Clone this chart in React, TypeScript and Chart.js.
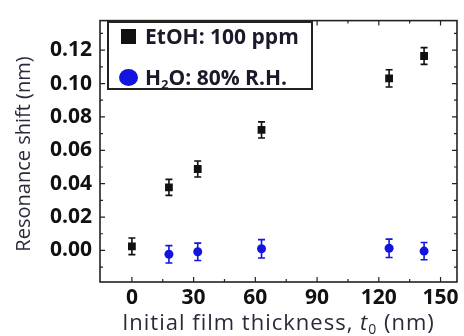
import React, { useEffect, useRef } from "react";
import { Chart, registerables } from "chart.js";

Chart.register(...registerables);

const etohThickness = [0, 18, 32, 63, 125, 142];
const etohShift = [0.0025, 0.0378, 0.0488, 0.0722, 0.1031, 0.1165];
const etohErr = [0.005, 0.0048, 0.0048, 0.0048, 0.0052, 0.005];

const waterThickness = [18, 32, 63, 125, 142];
const waterShift = [-0.0023, -0.0008, 0.001, 0.0013, -0.0004];
const waterErr = [0.0052, 0.0052, 0.0055, 0.0055, 0.0052];

const xTicks = [0, 30, 60, 90, 120, 150];
const yTicks = [0, 0.02, 0.04, 0.06, 0.08, 0.1, 0.12];
const xMinor = [15, 45, 75, 105, 135];
const yMinor = [-0.01, 0.01, 0.03, 0.05, 0.07, 0.09, 0.11, 0.13];

const etohLabel = "EtOH: 100 ppm";
const waterLabelParts = ["H", "2", "O: 80% R.H."];
const yTitle = "Resonance shift (nm)";
const xTitleParts = ["Initial film thickness, ", "t", "0", " (nm)"];

const BLUE = "#1414e0";
const INK = "#111111";

const errorBarPlugin = {
  id: "errBars",
  afterDatasetsDraw(chart: any) {
    const ctx = chart.ctx;
    const x = chart.scales.x;
    const y = chart.scales.y;
    const sets = [
      { xs: etohThickness, ys: etohShift, es: etohErr, c: INK },
      { xs: waterThickness, ys: waterShift, es: waterErr, c: BLUE },
    ];
    ctx.save();
    ctx.lineWidth = 1.6;
    for (const s of sets) {
      ctx.strokeStyle = s.c;
      s.xs.forEach((xv, i) => {
        const px = x.getPixelForValue(xv);
        const top = y.getPixelForValue(s.ys[i] + s.es[i]);
        const bot = y.getPixelForValue(s.ys[i] - s.es[i]);
        ctx.beginPath();
        ctx.moveTo(px, top);
        ctx.lineTo(px, bot);
        ctx.moveTo(px - 3.5, top);
        ctx.lineTo(px + 3.5, top);
        ctx.moveTo(px - 3.5, bot);
        ctx.lineTo(px + 3.5, bot);
        ctx.stroke();
      });
    }
    ctx.restore();
  },
};

const framePlugin = {
  id: "frame",
  afterDraw(chart: any) {
    const ctx = chart.ctx;
    const a = chart.chartArea;
    const x = chart.scales.x;
    const y = chart.scales.y;
    ctx.save();
    ctx.strokeStyle = "#222";
    ctx.lineWidth = 1.6;
    ctx.strokeRect(a.left, a.top, a.right - a.left, a.bottom - a.top);
    ctx.lineWidth = 1.2;
    ctx.beginPath();
    const major = 5;
    const minor = 3;
    xTicks.forEach((v) => {
      const p = x.getPixelForValue(v);
      ctx.moveTo(p, a.bottom);
      ctx.lineTo(p, a.bottom - major);
      ctx.moveTo(p, a.top);
      ctx.lineTo(p, a.top + major);
    });
    xMinor.forEach((v) => {
      const p = x.getPixelForValue(v);
      ctx.moveTo(p, a.bottom);
      ctx.lineTo(p, a.bottom - minor);
      ctx.moveTo(p, a.top);
      ctx.lineTo(p, a.top + minor);
    });
    yTicks.forEach((v) => {
      const p = y.getPixelForValue(v);
      ctx.moveTo(a.left, p);
      ctx.lineTo(a.left + major, p);
      ctx.moveTo(a.right, p);
      ctx.lineTo(a.right - major, p);
    });
    yMinor.forEach((v) => {
      const p = y.getPixelForValue(v);
      ctx.moveTo(a.left, p);
      ctx.lineTo(a.left + minor, p);
      ctx.moveTo(a.right, p);
      ctx.lineTo(a.right - minor, p);
    });
    ctx.stroke();

    // Legend
    const lx = 108, ly = 22, lw = 204, lh = 67;
    ctx.fillStyle = "#fff";
    ctx.fillRect(lx, ly, lw, lh);
    ctx.strokeStyle = "#222";
    ctx.lineWidth = 2;
    ctx.strokeRect(lx, ly, lw, lh);
    ctx.fillStyle = INK;
    ctx.fillRect(121, 29, 15, 15);
    ctx.fillStyle = BLUE;
    ctx.beginPath();
    ctx.ellipse(128.5, 77.5, 9.5, 8.5, 0, 0, Math.PI * 2);
    ctx.fill();
    ctx.fillStyle = "#1a1a2a";
    ctx.font = "bold 21px 'Open Sans'";
    ctx.textBaseline = "alphabetic";
    ctx.textAlign = "left";
    ctx.fillText(etohLabel, 145, 44);
    let cx = 145;
    ctx.fillText(waterLabelParts[0], cx, 85);
    cx += ctx.measureText(waterLabelParts[0]).width;
    ctx.font = "bold 13px 'Open Sans'";
    ctx.fillText(waterLabelParts[1], cx, 89);
    cx += ctx.measureText(waterLabelParts[1]).width;
    ctx.font = "bold 21px 'Open Sans'";
    ctx.fillText(waterLabelParts[2], cx, 85);

    // Axis titles
    ctx.fillStyle = "#2a2a3a";
    ctx.font = "20px 'Open Sans'";
    ctx.save();
    ctx.translate(30, 154);
    ctx.rotate(-Math.PI / 2);
    ctx.textAlign = "center";
    ctx.fillText(yTitle, 0, 0);
    ctx.restore();

    (ctx as any).letterSpacing = "1px";
    const fReg = "22px 'Open Sans'";
    const fIt = "italic 22px 'Open Sans'";
    const fSub = "14px 'Open Sans'";
    ctx.font = fReg;
    const w0 = ctx.measureText(xTitleParts[0]).width;
    const w3 = ctx.measureText(xTitleParts[3]).width;
    ctx.font = fIt;
    const w1 = ctx.measureText(xTitleParts[1]).width;
    ctx.font = fSub;
    const w2 = ctx.measureText(xTitleParts[2]).width;
    const total = w0 + w1 + w2 + w3;
    let tx = (a.left + a.right) / 2 - total / 2;
    const by = 330;
    ctx.textAlign = "left";
    ctx.font = fReg;
    ctx.fillText(xTitleParts[0], tx, by);
    tx += w0;
    ctx.font = fIt;
    ctx.fillText(xTitleParts[1], tx, by);
    tx += w1;
    ctx.font = fSub;
    ctx.fillText(xTitleParts[2], tx, by + 4);
    tx += w2;
    ctx.font = fReg;
    ctx.fillText(xTitleParts[3], tx, by);
    (ctx as any).letterSpacing = "0px";
    ctx.restore();
  },
};

export default function App() {
  const ref = useRef<HTMLCanvasElement | null>(null);
  useEffect(() => {
    if (!ref.current) return;
    const chart = new Chart(ref.current, {
      type: "scatter",
      data: {
        datasets: [
          {
            label: etohLabel,
            data: etohThickness.map((t, i) => ({ x: t, y: etohShift[i] })),
            pointStyle: "rect",
            pointRadius: 5.5,
            backgroundColor: INK,
            borderColor: INK,
            borderWidth: 0,
          },
          {
            label: "H2O: 80% R.H.",
            data: waterThickness.map((t, i) => ({ x: t, y: waterShift[i] })),
            pointStyle: "circle",
            pointRadius: 4.5,
            backgroundColor: BLUE,
            borderColor: BLUE,
            borderWidth: 0,
          },
        ],
      },
      options: {
        animation: false,
        responsive: false,
        layout: { padding: { top: 13, right: 7, left: 0, bottom: 0 } },
        plugins: { legend: { display: false }, tooltip: { enabled: false } },
        scales: {
          x: {
            type: "linear",
            min: -15.5,
            max: 158,
            afterBuildTicks: (s: any) => {
              s.ticks = xTicks.map((v) => ({ value: v }));
            },
            afterFit: (s: any) => {
              s.height = 54;
            },
            grid: { display: false, drawTicks: false },
            border: { display: false },
            ticks: {
              padding: 3,
              color: INK,
              font: { family: "'Open Sans'", size: 21, weight: "bold" },
              maxRotation: 0,
            },
          },
          y: {
            type: "linear",
            min: -0.0189,
            max: 0.1377,
            afterBuildTicks: (s: any) => {
              s.ticks = yTicks.map((v) => ({ value: v }));
            },
            afterFit: (s: any) => {
              s.width = 100;
            },
            grid: { display: false, drawTicks: false },
            border: { display: false },
            ticks: {
              padding: 8,
              color: INK,
              font: { family: "'Open Sans'", size: 21, weight: "bold" },
              callback: (v: any) => Number(v).toFixed(2),
            },
          },
        },
      },
      plugins: [errorBarPlugin, framePlugin],
    });
    return () => chart.destroy();
  }, []);
  return (
    <div style={{ position: "absolute", left: 0, top: 0, width: 464, height: 336, background: "#fff" }}>
      <canvas ref={ref} width={464} height={336} style={{ display: "block" }} />
    </div>
  );
}
